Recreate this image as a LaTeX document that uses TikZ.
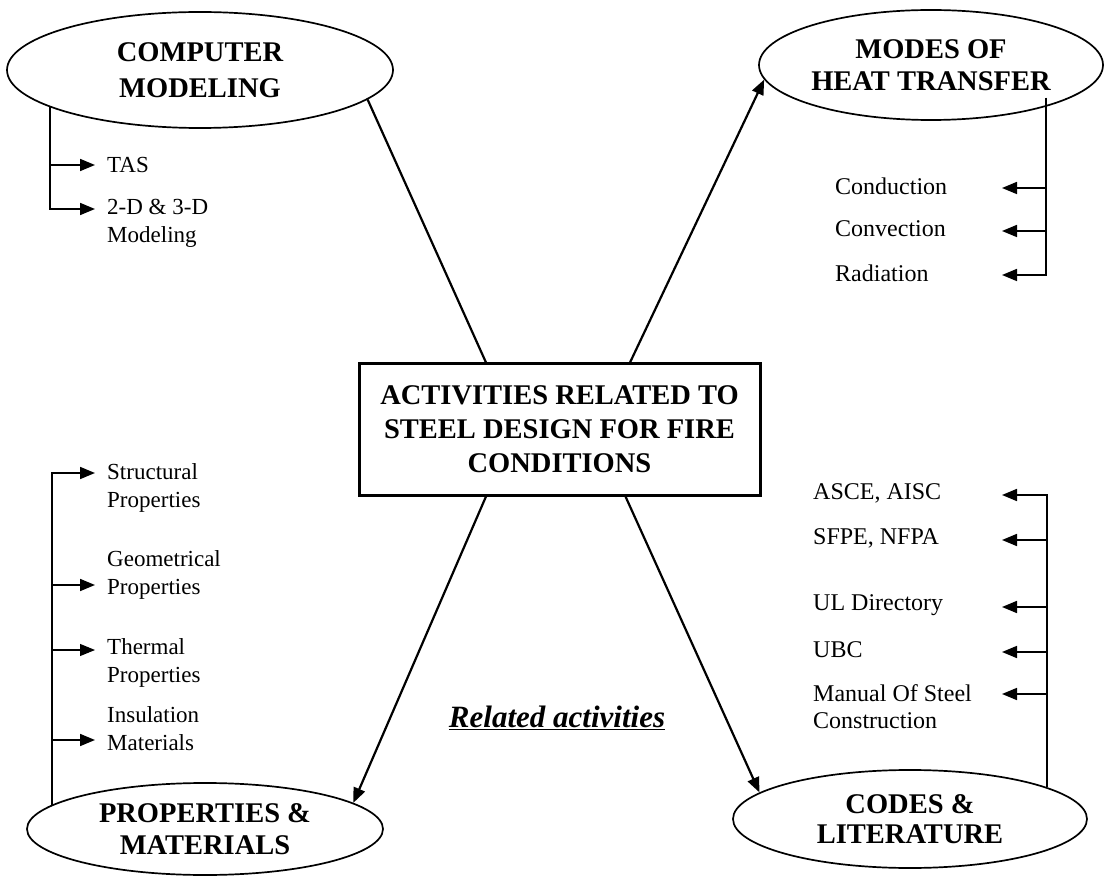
\documentclass[tikz,border=0pt]{standalone}
\usepackage{fontspec}
\setmainfont{Liberation Serif}
\usetikzlibrary{shapes.geometric,arrows.meta,calc}
\newcommand\bigfa{\fontsize{28.5}{36}\selectfont\bfseries}
\newcommand\bigfb{\fontsize{28.5}{32}\selectfont\bfseries}
\newcommand\bigfc{\fontsize{28.5}{34}\selectfont\bfseries}
\newcommand\bigfd{\fontsize{28.5}{30}\selectfont\bfseries}
\newcommand\leftf{\fontsize{23}{28}\selectfont}
\newcommand\rightf{\fontsize{24}{27}\selectfont}
\begin{document}
\begin{tikzpicture}[x=1pt,y=-1pt,
  ell/.style={ellipse,draw,line width=1.7pt,inner sep=0pt,align=center},
  mainbox/.style={rectangle,draw,line width=3pt,inner sep=0pt,align=center,font=\bigfc},
  ltxt/.style={anchor=west,inner sep=0pt,align=left,font=\leftf},
  rtxt/.style={anchor=west,inner sep=0pt,align=left,font=\rightf},
  conn/.style={line width=2.2pt},
  arr/.style={conn,-{Triangle[length=15pt,width=12pt]}},
  tree/.style={line width=1.7pt,-{Triangle[length=15pt,width=12pt]}}]
\useasboundingbox[fill=white] (0,0) rectangle (1104,877);

% ellipses
\node[ell,font=\bigfa,minimum width=386pt,minimum height=116pt] (cm) at (200,70) {COMPUTER\\MODELING};
\node[ell,font=\bigfb,minimum width=344pt,minimum height=110pt] (mht) at (931,65) {MODES OF\\HEAT TRANSFER};
\node[ell,font=\bigfb,minimum width=356pt,minimum height=92pt] (pm) at (205,829) {PROPERTIES \&\\MATERIALS};
\node[ell,font=\bigfd,minimum width=354pt,minimum height=98pt] (cl) at (910,819) {CODES \&\\LITERATURE};

% central box
\node[mainbox,minimum width=401pt,minimum height=131pt] (box) at (559.5,429.5) {ACTIVITIES RELATED TO\\STEEL DESIGN FOR FIRE\\CONDITIONS};

% main connectors
\draw[conn] (cm.-10) -- ([xshift=-73.5pt]box.north);
\draw[arr] ([xshift=70.5pt]box.north) -- (mht.185);
\draw[arr] ([xshift=-73.5pt]box.south) -- (pm.10);
\draw[arr] ([xshift=66pt]box.south) -- (cl.170);

% computer modeling branch
\node[ltxt] (tas) at (107,165) {TAS};
\node[ltxt] (dd) at (107,223.5) {2-D \& 3-D\\Modeling};
\coordinate (tTAS) at (95,165);
\coordinate (tDD) at (95,209);
\draw[tree] (cm.194) |- (tTAS);
\draw[tree] (cm.194) |- (tDD);

% heat transfer branch
\node[rtxt] (cond) at (835,186) {Conduction};
\node[rtxt] (conv) at (835,229) {Convection};
\node[rtxt] (rad) at (835,273) {Radiation};
\coordinate (mhtT) at ($(mht.-20)+(0,-9)$);
\coordinate (tCond) at (1002,188);
\coordinate (tConv) at (1002,231);
\coordinate (tRad) at (1002,275);
\draw[tree] (mhtT) |- (tCond);
\draw[tree] (mhtT) |- (tConv);
\draw[tree] (mhtT) |- (tRad);

% properties branch
\node[ltxt] (str) at (107,487.5) {Structural\\Properties};
\node[ltxt] (geo) at (107,575) {Geometrical\\Properties};
\node[ltxt] (the) at (107,663) {Thermal\\Properties};
\node[ltxt] (ins) at (107,728.5) {Insulation\\Materials};
\coordinate (tStr) at (95,473);
\coordinate (tGeo) at (95,585);
\coordinate (tThe) at (95,650);
\coordinate (tIns) at (95,740);
\draw[tree] (pm.171) |- (tStr);
\draw[tree] (pm.171) |- (tGeo);
\draw[tree,line width=1.1pt] (pm.171) |- (tThe);
\draw[tree] (pm.171) |- (tIns);

% codes branch
\node[rtxt] (asce) at (813,493) {ASCE, AISC};
\node[rtxt] (sfpe) at (813,538) {SFPE, NFPA};
\node[rtxt] (ul) at (813,605) {UL Directory};
\node[rtxt] (ubc) at (813,650) {UBC};
\node[rtxt] (man) at (813,706.5) {Manual Of Steel\\Construction};
\coordinate (tAsce) at (1002,495);
\coordinate (tSfpe) at (1002,540);
\coordinate (tUl) at (1002,607);
\coordinate (tUbc) at (1002,652);
\coordinate (tMan) at (1002,694);
\draw[tree] (cl.13.4) |- (tAsce);
\draw[tree] (cl.13.4) |- (tSfpe);
\draw[tree] (cl.13.4) |- (tUl);
\draw[tree] (cl.13.4) |- (tUbc);
\draw[tree] (cl.13.4) |- (tMan);

% caption
\node[inner sep=0pt,font=\fontsize{31}{34}\selectfont\bfseries\itshape] (rel) at (557,718) {\underline{Related activities}};
\end{tikzpicture}
\end{document}
